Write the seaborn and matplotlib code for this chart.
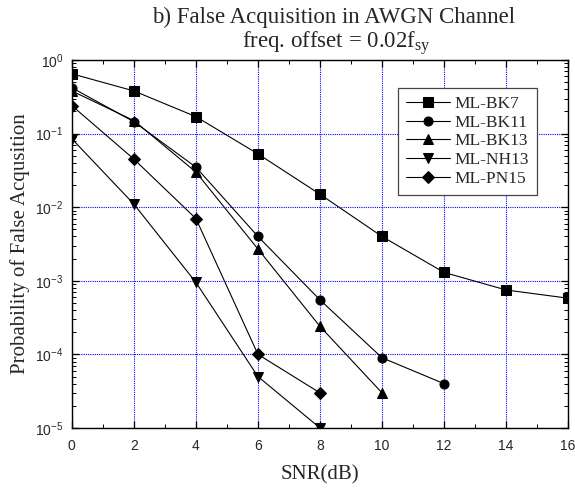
import numpy as np
import pandas as pd
import seaborn as sns
import matplotlib
matplotlib.use("Agg")
import matplotlib.pyplot as plt
from matplotlib.ticker import LogLocator, MultipleLocator, FixedLocator, FuncFormatter, NullFormatter

snr_bk7 = [0, 2, 4, 6, 8, 10, 12, 14, 16]
pfa_bk7 = [0.65, 0.38, 0.17, 0.053, 0.015, 0.004, 0.0013, 0.00075, 0.00058]
snr_bk11 = [0, 2, 4, 6, 8, 10, 12]
pfa_bk11 = [0.42, 0.145, 0.035, 0.004, 0.00055, 9e-5, 4e-5]
snr_bk13 = [0, 2, 4, 6, 8, 10]
pfa_bk13 = [0.38, 0.15, 0.030, 0.0027, 0.00024, 3e-5]
snr_nh13 = [0, 2, 4, 6, 8]
pfa_nh13 = [0.085, 0.011, 0.00095, 5e-5, 1e-5]
snr_pn15 = [0, 2, 4, 6, 8]
pfa_pn15 = [0.24, 0.045, 0.007, 1e-4, 3e-5]

series_names = ["ML-BK7", "ML-BK11", "ML-BK13", "ML-NH13", "ML-PN15"]
series_markers = ["s", "o", "^", "v", "D"]
x_ticks = [0, 2, 4, 6, 8, 10, 12, 14, 16]

frames = []
for name, xs, ys in zip(series_names,
                        [snr_bk7, snr_bk11, snr_bk13, snr_nh13, snr_pn15],
                        [pfa_bk7, pfa_bk11, pfa_bk13, pfa_nh13, pfa_pn15]):
    frames.append(pd.DataFrame({"SNR": xs, "Pfa": ys, "Series": name}))
df = pd.concat(frames, ignore_index=True)

sns.set_style("ticks")
plt.rcParams["font.family"] = ["Liberation Serif", "DejaVu Serif"]

fig = plt.figure(figsize=(5.75, 4.88), dpi=100)
ax = fig.add_axes([0.125, 0.123, 0.863, 0.754])

sns.lineplot(data=df, x="SNR", y="Pfa", style="Series", hue="Series",
             palette=["black"] * 5, markers=dict(zip(series_names, series_markers)),
             dashes=False, markersize=6.5, linewidth=0.8,
             markeredgecolor="black", ax=ax, legend=True)

ax.set_yscale("log")
ax.set_xlim(0, 16)
ax.set_ylim(1e-5, 1)
ax.xaxis.set_major_locator(FixedLocator(x_ticks))
ax.xaxis.set_minor_locator(MultipleLocator(1))
ax.yaxis.set_major_locator(LogLocator(base=10, numticks=10))
ax.yaxis.set_minor_locator(LogLocator(base=10, subs=np.arange(2, 10), numticks=20))
ax.yaxis.set_minor_formatter(NullFormatter())
ax.yaxis.set_major_formatter(FuncFormatter(
    lambda v, p: r"$\mathregular{10^{%d}}$" % int(round(np.log10(v)))))

ax.tick_params(which="both", direction="in", top=True, right=True, color="black")
ax.tick_params(which="major", length=5, width=0.9, labelsize=10)
ax.tick_params(axis="x", which="major", pad=8)
ax.tick_params(axis="y", which="major", pad=6)
ax.tick_params(which="minor", length=3, width=0.7)
for lab in ax.get_xticklabels() + ax.get_yticklabels():
    lab.set_family(["Liberation Sans", "DejaVu Sans"])

ax.grid(True, which="major", color="#0000ff", linestyle=(0, (1, 1)), linewidth=0.8)
for s in ax.spines.values():
    s.set_linewidth(1.0)
    s.set_color("black")

ax.set_xlabel("SNR(dB)", fontsize=15, labelpad=9)
ax.set_ylabel("Probability of False Acqusition", fontsize=15, labelpad=4)

fig.text(0.581, 0.953, "b) False Acquisition in AWGN Channel", ha="center", va="baseline", fontsize=16.5)
fig.text(0.585, 0.902, r"freq. offset = 0.02f$\mathregular{_{sy}}$", ha="center", va="baseline", fontsize=16.5)

leg = ax.legend(loc="upper right", bbox_to_anchor=(0.9375, 0.924), borderaxespad=0,
                frameon=True, fancybox=False, edgecolor="#444444", fontsize=12.5,
                handlelength=2.5, borderpad=0.45, labelspacing=0.15, handletextpad=0.3)
leg.get_frame().set_linewidth(0.9)
leg.get_frame().set_alpha(1)

fig.savefig("out.png", dpi=100)
